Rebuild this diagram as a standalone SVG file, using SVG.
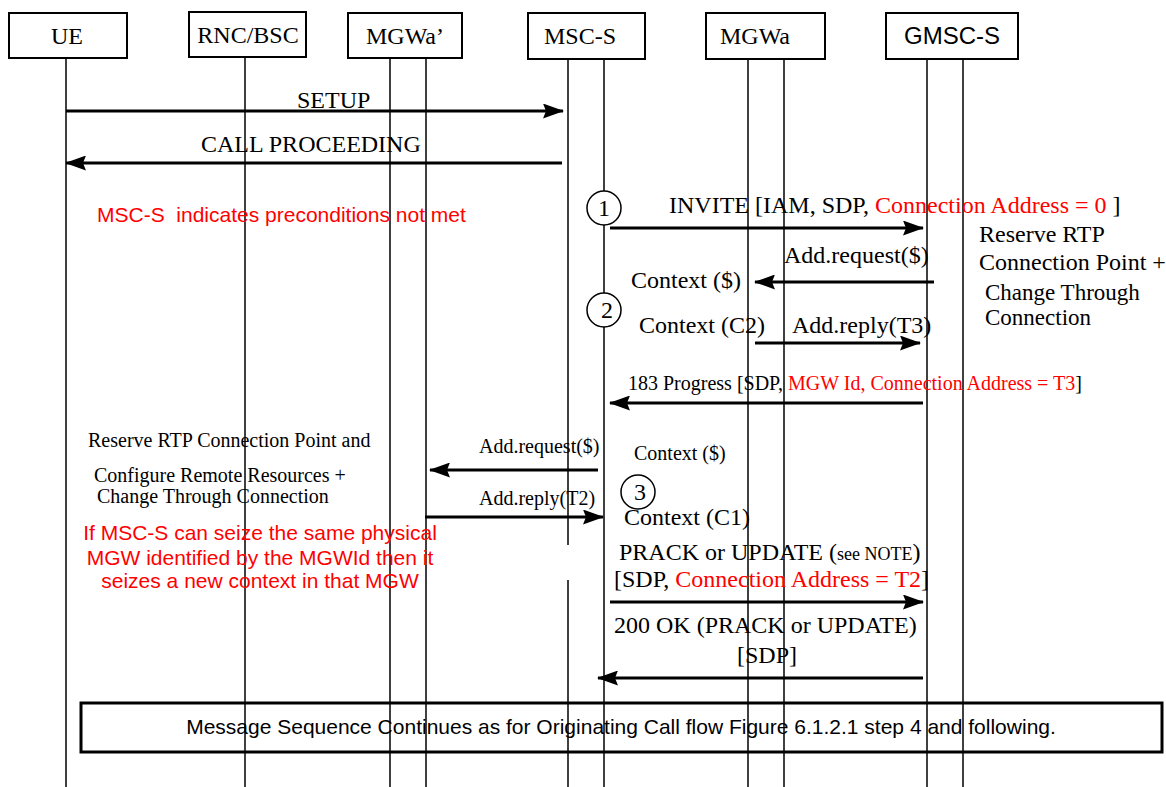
<svg xmlns="http://www.w3.org/2000/svg" width="1166" height="787" viewBox="0 0 1166 787">
<defs>
<style>
.box{fill:#fff;stroke:#000;stroke-width:2}
.life{stroke:#000;stroke-width:1.5;fill:none}
.msg{stroke:#000;stroke-width:3;fill:none;marker-end:url(#ah)}
.t{font-family:"Liberation Serif","Times New Roman",serif;font-size:24px;fill:#000}
.ts{font-family:"Liberation Serif","Times New Roman",serif;font-size:20px;fill:#000}
.a{font-family:"Liberation Sans",Arial,sans-serif;font-size:24px;fill:#000}
.red{fill:#f00}
.ra{font-family:"Liberation Sans",Arial,sans-serif;font-size:21px;fill:#f00}
.step{fill:#fff;stroke:#000;stroke-width:1.5}
</style>
<marker id="ah" markerUnits="userSpaceOnUse" markerWidth="21" markerHeight="15" refX="20" refY="7.5" orient="auto">
<path d="M0,0 L21,7.5 L0,15 L3,7.5 Z" fill="#000"/>
</marker>
</defs>
<rect width="1166" height="787" fill="#fff"/>

<g id="lifelines">
<line class="life" x1="66" y1="58" x2="66" y2="787"/>
<line class="life" x1="245" y1="57" x2="245" y2="787"/>
<line class="life" x1="390" y1="58" x2="390" y2="787"/>
<line class="life" x1="426" y1="58" x2="426" y2="787"/>
<line class="life" x1="568" y1="59" x2="568" y2="545"/>
<line class="life" x1="568" y1="580" x2="568" y2="787"/>
<line class="life" x1="604" y1="59" x2="604" y2="787"/>
<line class="life" x1="748" y1="59" x2="748" y2="787"/>
<line class="life" x1="784" y1="59" x2="784" y2="787"/>
<line class="life" x1="927" y1="59" x2="927" y2="787"/>
<line class="life" x1="963" y1="59" x2="963" y2="787"/>
</g>

<g id="node-UE"><rect class="box" x="9" y="13" width="118" height="45"/><text class="t" x="67" y="44" text-anchor="middle">UE</text></g>
<g id="node-RNC"><rect class="box" x="189" y="12" width="117" height="45"/><text class="t" x="248" y="43" text-anchor="middle">RNC/BSC</text></g>
<g id="node-MGWa-prime"><rect class="box" x="348" y="13" width="114" height="45"/><text class="t" x="405" y="44" text-anchor="middle">MGWa’</text></g>
<g id="node-MSC-S"><rect class="box" x="528" y="13" width="117" height="46"/><text class="t" x="580" y="44" text-anchor="middle">MSC-S</text></g>
<g id="node-MGWa"><rect class="box" x="706" y="13" width="119" height="46"/><text class="t" x="755" y="44" text-anchor="middle">MGWa</text></g>
<g id="node-GMSC-S"><rect class="box" x="886" y="13" width="132" height="46"/><text class="a" x="952" y="44" text-anchor="middle">GMSC-S</text></g>

<g id="connectors">
<line class="msg" x1="66" y1="111" x2="563" y2="111"/>
<line class="msg" x1="562" y1="163" x2="66" y2="163"/>
<line class="msg" x1="610" y1="228" x2="923" y2="228"/>
<line class="msg" x1="934" y1="282" x2="755" y2="282"/>
<line class="msg" x1="755" y1="343" x2="920" y2="343"/>
<line class="msg" x1="923" y1="403" x2="610" y2="403"/>
<line class="msg" x1="598" y1="470" x2="430" y2="470"/>
<line class="msg" x1="425" y1="517" x2="603" y2="517"/>
<line class="msg" x1="610" y1="602" x2="923" y2="602"/>
<line class="msg" x1="923" y1="678" x2="598" y2="678"/>
</g>

<g id="step1"><circle class="step" cx="604" cy="208" r="17"/><text class="t" x="604" y="216" text-anchor="middle">1</text></g>
<g id="step2"><circle class="step" cx="604" cy="310" r="17"/><text class="t" x="607" y="318" text-anchor="middle">2</text></g>
<g id="step3"><circle class="step" cx="638" cy="492" r="17"/><text class="t" x="640" y="500" text-anchor="middle">3</text></g>

<g id="labels">
<text class="t" x="297" y="108">SETUP</text>
<text class="t" x="201" y="152">CALL PROCEEDING</text>
<text class="ra" x="97" y="222" xml:space="preserve">MSC-S  indicates preconditions not met</text>
<text class="t" x="669" y="213">INVITE [IAM, SDP, <tspan class="red">Connection Address = 0</tspan> ]</text>
<text class="t" x="979" y="242">Reserve RTP</text>
<text class="t" x="979" y="270">Connection Point +</text>
<text class="t" x="985" y="300" style="font-size:23px">Change Through</text>
<text class="t" x="985" y="325" style="font-size:23px">Connection</text>
<text class="t" x="784" y="263">Add.request($)</text>
<text class="t" x="631" y="288">Context ($)</text>
<text class="t" x="639" y="333">Context (C2)</text>
<text class="t" x="792" y="333">Add.reply(T3)</text>
<text class="ts" x="628" y="390">183 Progress [SDP, <tspan class="red">MGW Id, Connection Address = T3</tspan>]</text>
<text class="ts" x="634" y="460">Context ($)</text>
<text class="ts" x="88" y="447">Reserve RTP Connection Point and</text>
<text class="ts" x="94" y="482">Configure Remote Resources +</text>
<text class="ts" x="97" y="503">Change Through Connection</text>
<text class="ts" x="479" y="453">Add.request($)</text>
<text class="ts" x="479" y="505">Add.reply(T2)</text>
<text class="ra" x="260" y="540" text-anchor="middle">If MSC-S can seize the same physical</text>
<text class="ra" x="260" y="565" text-anchor="middle">MGW identified by the MGWId then it</text>
<text class="ra" x="260" y="588" text-anchor="middle">seizes a new context in that MGW</text>
<text class="t" x="624" y="525">Context (C1)</text>
<text class="t" x="619" y="560">PRACK or UPDATE (<tspan font-size="18">see NOTE</tspan>)</text>
<text class="t" x="614" y="587">[SDP, <tspan class="red">Connection Address = T2</tspan>]</text>
<text class="t" x="614" y="633">200 OK (PRACK or UPDATE)</text>
<text class="t" x="737" y="663">[SDP]</text>
</g>

<g id="note">
<rect x="81" y="703" width="1081" height="49" fill="none" stroke="#000" stroke-width="3"/>
<text class="a" x="621" y="734" text-anchor="middle" style="font-size:21px">Message Sequence Continues as for Originating Call flow Figure 6.1.2.1 step 4 and following.</text>
</g>
</svg>
